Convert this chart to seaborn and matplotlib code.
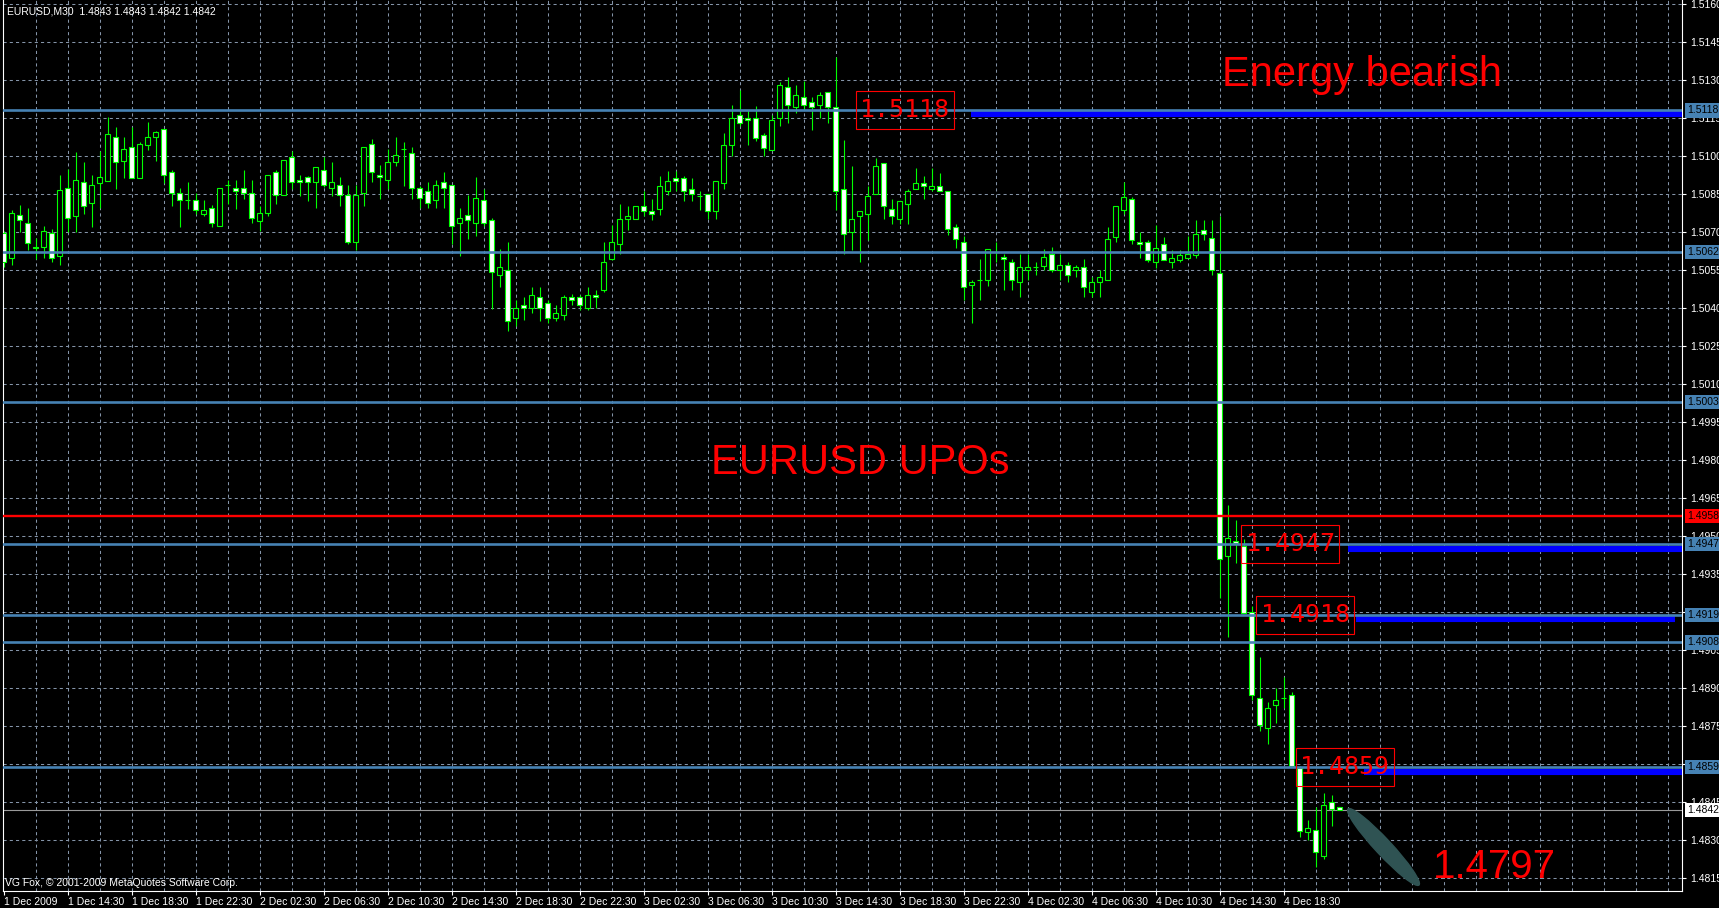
import matplotlib
matplotlib.use("Agg")
import matplotlib.pyplot as plt
import numpy as np
import seaborn as sns
from matplotlib.patches import Ellipse, Rectangle
from matplotlib.transforms import IdentityTransform, blended_transform_factory

# EURUSD M30, 1 Dec 2009 10:30 -> 4 Dec 2009 22:00 (one entry per candle)
opens = [
    1.50696, 1.50596, 1.50767, 1.50734, 1.50643, 1.50643, 1.50695, 1.50604, 1.50872, 1.50764,
    1.50896, 1.50813, 1.50895, 1.50903, 1.51074, 1.50982, 1.51034, 1.50914, 1.51045, 1.51074,
    1.51105, 1.50936, 1.50853, 1.50825, 1.50825, 1.50772, 1.50793, 1.50722, 1.50884, 1.50872,
    1.50872, 1.50853, 1.50745, 1.50774, 1.50936, 1.50845, 1.50995, 1.50904, 1.50916, 1.50896,
    1.50943, 1.50872, 1.50884, 1.50845, 1.50662, 1.50853, 1.51046, 1.50924, 1.50904, 1.50975,
    1.51026, 1.51014, 1.50872, 1.50864, 1.50825, 1.50896, 1.50884, 1.50734, 1.50766, 1.50734,
    1.50825, 1.50746, 1.50529, 1.50549, 1.50360, 1.50412, 1.50400, 1.50443, 1.50420, 1.50360,
    1.50371, 1.50443, 1.50443, 1.50400, 1.50451, 1.50470, 1.50593, 1.50653, 1.50751, 1.50751,
    1.50801, 1.50782, 1.50791, 1.50861, 1.50913, 1.50913, 1.50870, 1.50842, 1.50850, 1.50782,
    1.50893, 1.51042, 1.51162, 1.51150, 1.51150, 1.51083, 1.51022, 1.51149, 1.51272, 1.51192,
    1.51233, 1.51212, 1.51200, 1.51253, 1.51192, 1.50870, 1.50700, 1.50762, 1.50770, 1.50849,
    1.50972, 1.50791, 1.50750, 1.50809, 1.50870, 1.50893, 1.50870, 1.50883, 1.50862, 1.50720,
    1.50661, 1.50491, 1.50511, 1.50509, 1.50620, 1.50601, 1.50582, 1.50503, 1.50550, 1.50562,
    1.50568, 1.50613, 1.50550, 1.50570, 1.50550, 1.50562, 1.50462, 1.50501, 1.50509, 1.50679,
    1.50789, 1.50829, 1.50660, 1.50660, 1.50580, 1.50651, 1.50580, 1.50591, 1.50599, 1.50610,
    1.50710, 1.50678, 1.50540, 1.49422, 1.49481, 1.49462, 1.49201, 1.48862, 1.48743, 1.48833,
    1.48862, 1.48873, 1.48584, 1.48331, 1.48339, 1.48236, 1.48449, 1.48430,
]
highs = [
    1.50705, 1.50787, 1.50807, 1.50793, 1.50675, 1.50724, 1.50714, 1.50924, 1.50949, 1.51016,
    1.50976, 1.50924, 1.51018, 1.51153, 1.51114, 1.51074, 1.51114, 1.51055, 1.51134, 1.51100,
    1.51108, 1.50945, 1.50874, 1.50897, 1.50853, 1.50826, 1.50805, 1.50872, 1.50905, 1.50905,
    1.50945, 1.50905, 1.50804, 1.50924, 1.50945, 1.50983, 1.51018, 1.50924, 1.50922, 1.50955,
    1.50996, 1.50976, 1.50916, 1.50884, 1.50884, 1.51034, 1.51066, 1.50963, 1.51028, 1.51074,
    1.51055, 1.51034, 1.50883, 1.50896, 1.50904, 1.50936, 1.50884, 1.50793, 1.50845, 1.50916,
    1.50870, 1.50754, 1.50633, 1.50662, 1.50433, 1.50443, 1.50484, 1.50484, 1.50433, 1.50413,
    1.50451, 1.50454, 1.50451, 1.50484, 1.50471, 1.50662, 1.50729, 1.50812, 1.50804, 1.50804,
    1.50861, 1.50830, 1.50922, 1.50941, 1.50942, 1.50921, 1.50913, 1.50863, 1.50850, 1.50901,
    1.51092, 1.51201, 1.51262, 1.51180, 1.51196, 1.51092, 1.51162, 1.51293, 1.51312, 1.51282,
    1.51296, 1.51233, 1.51253, 1.51253, 1.51392, 1.51064, 1.50961, 1.50782, 1.50883, 1.50993,
    1.50972, 1.50830, 1.50822, 1.50870, 1.50954, 1.50921, 1.50953, 1.50933, 1.50862, 1.50733,
    1.50683, 1.50512, 1.50593, 1.50633, 1.50661, 1.50613, 1.50593, 1.50613, 1.50613, 1.50583,
    1.50633, 1.50642, 1.50613, 1.50583, 1.50570, 1.50593, 1.50521, 1.50550, 1.50720, 1.50804,
    1.50897, 1.50840, 1.50699, 1.50670, 1.50729, 1.50680, 1.50628, 1.50631, 1.50684, 1.50749,
    1.50749, 1.50749, 1.50763, 1.49624, 1.49565, 1.49489, 1.49224, 1.49023, 1.48846, 1.48902,
    1.48942, 1.48883, 1.48592, 1.48379, 1.48431, 1.48484, 1.48478, 1.48430,
]
lows = [
    1.50564, 1.50571, 1.50701, 1.50630, 1.50593, 1.50596, 1.50583, 1.50571, 1.50701, 1.50701,
    1.50771, 1.50721, 1.50796, 1.50903, 1.50871, 1.50913, 1.50914, 1.50914, 1.51025, 1.50982,
    1.50892, 1.50804, 1.50721, 1.50792, 1.50771, 1.50763, 1.50721, 1.50722, 1.50811, 1.50792,
    1.50830, 1.50734, 1.50705, 1.50764, 1.50811, 1.50845, 1.50870, 1.50843, 1.50824, 1.50793,
    1.50876, 1.50843, 1.50804, 1.50653, 1.50630, 1.50804, 1.50896, 1.50832, 1.50870, 1.50962,
    1.50883, 1.50832, 1.50796, 1.50793, 1.50793, 1.50793, 1.50654, 1.50604, 1.50674, 1.50683,
    1.50725, 1.50396, 1.50482, 1.50310, 1.50330, 1.50354, 1.50380, 1.50350, 1.50340, 1.50350,
    1.50354, 1.50412, 1.50391, 1.50391, 1.50400, 1.50462, 1.50590, 1.50612, 1.50709, 1.50751,
    1.50762, 1.50749, 1.50768, 1.50847, 1.50861, 1.50821, 1.50821, 1.50789, 1.50751, 1.50751,
    1.50870, 1.51000, 1.51120, 1.51042, 1.51061, 1.51000, 1.51022, 1.51120, 1.51129, 1.51170,
    1.51180, 1.51101, 1.51150, 1.51129, 1.50788, 1.50612, 1.50630, 1.50580, 1.50670, 1.50849,
    1.50751, 1.50730, 1.50730, 1.50730, 1.50870, 1.50830, 1.50861, 1.50861, 1.50689, 1.50638,
    1.50430, 1.50341, 1.50430, 1.50489, 1.50580, 1.50470, 1.50470, 1.50442, 1.50509, 1.50529,
    1.50550, 1.50541, 1.50509, 1.50501, 1.50521, 1.50442, 1.50442, 1.50442, 1.50509, 1.50659,
    1.50770, 1.50651, 1.50599, 1.50580, 1.50560, 1.50591, 1.50560, 1.50580, 1.50599, 1.50599,
    1.50670, 1.50532, 1.49256, 1.49103, 1.49393, 1.49195, 1.48854, 1.48730, 1.48680, 1.48762,
    1.48822, 1.48592, 1.48312, 1.48299, 1.48195, 1.48226, 1.48355, 1.48420,
]
closes = [
    1.50583, 1.50774, 1.50746, 1.50655, 1.50636, 1.50703, 1.50596, 1.50866, 1.50754, 1.50904,
    1.50804, 1.50884, 1.50916, 1.51086, 1.50975, 1.51026, 1.50914, 1.51046, 1.51074, 1.51093,
    1.50924, 1.50853, 1.50825, 1.50825, 1.50786, 1.50786, 1.50734, 1.50872, 1.50884, 1.50864,
    1.50853, 1.50754, 1.50774, 1.50924, 1.50845, 1.50983, 1.50896, 1.50896, 1.50896, 1.50955,
    1.50884, 1.50896, 1.50845, 1.50662, 1.50845, 1.51034, 1.50936, 1.50916, 1.50975, 1.51003,
    1.51026, 1.50872, 1.50833, 1.50813, 1.50884, 1.50872, 1.50722, 1.50754, 1.50746, 1.50833,
    1.50734, 1.50543, 1.50562, 1.50350, 1.50400, 1.50400, 1.50451, 1.50400, 1.50360, 1.50380,
    1.50443, 1.50430, 1.50411, 1.50451, 1.50443, 1.50582, 1.50662, 1.50751, 1.50763, 1.50804,
    1.50783, 1.50771, 1.50883, 1.50901, 1.50901, 1.50861, 1.50850, 1.50842, 1.50782, 1.50901,
    1.51043, 1.51150, 1.51130, 1.51141, 1.51070, 1.51032, 1.51142, 1.51282, 1.51200, 1.51242,
    1.51200, 1.51192, 1.51242, 1.51192, 1.50861, 1.50691, 1.50751, 1.50782, 1.50842, 1.50961,
    1.50801, 1.50762, 1.50822, 1.50862, 1.50893, 1.50880, 1.50883, 1.50861, 1.50712, 1.50672,
    1.50483, 1.50503, 1.50511, 1.50633, 1.50620, 1.50593, 1.50509, 1.50562, 1.50562, 1.50562,
    1.50601, 1.50550, 1.50570, 1.50529, 1.50562, 1.50483, 1.50503, 1.50522, 1.50672, 1.50804,
    1.50840, 1.50670, 1.50651, 1.50591, 1.50639, 1.50591, 1.50599, 1.50610, 1.50615, 1.50691,
    1.50691, 1.50551, 1.49409, 1.49492, 1.49473, 1.49195, 1.48873, 1.48753, 1.48822, 1.48854,
    1.48862, 1.48592, 1.48337, 1.48349, 1.48252, 1.48440, 1.48421, 1.48420,
]

# x axis labels (every 8th candle)
time_idx = [0, 8, 16, 24, 32, 40, 48, 56, 64, 72, 80, 88, 96, 104, 112, 120, 128, 136, 144, 152, 160]
time_labels = ["1 Dec 2009", "1 Dec 14:30", "1 Dec 18:30", "1 Dec 22:30", "2 Dec 02:30",
               "2 Dec 06:30", "2 Dec 10:30", "2 Dec 14:30", "2 Dec 18:30", "2 Dec 22:30",
               "3 Dec 02:30", "3 Dec 06:30", "3 Dec 10:30", "3 Dec 14:30", "3 Dec 18:30",
               "3 Dec 22:30", "4 Dec 02:30", "4 Dec 06:30", "4 Dec 10:30", "4 Dec 14:30",
               "4 Dec 18:30"]
price_ticks = [1.5160, 1.5145, 1.5130, 1.5115, 1.5100, 1.5085, 1.5070, 1.5055, 1.5040,
               1.5025, 1.5010, 1.4995, 1.4980, 1.4965, 1.4950, 1.4935, 1.4920, 1.4905,
               1.4890, 1.4875, 1.4860, 1.4845, 1.4830, 1.4815]

# UPO levels
levels = [1.5118, 1.5062, 1.5003, 1.4947, 1.4919, 1.4908, 1.4859]
red_level = 1.4958
last_price = 1.4842

# thick blue "energy" segments: price, start candle, end candle
seg_price = [1.51165, 1.49450, 1.49172, 1.48568]
seg_start = [120.9, 168.0, 169.0, 170.0]
seg_end = [209.8, 209.8, 208.9, 209.8]

# boxed price labels: text, level, left candle
box_labels = ["1.5118", "1.4947", "1.4918", "1.4859"]
box_price = [1.5118, 1.4947, 1.4919, 1.4859]
box_left = [106.5, 154.7, 156.6, 161.5]

sns.set_theme(style="dark", rc={"axes.facecolor": "black", "figure.facecolor": "black"})
plt.rcParams["font.family"] = ["Liberation Sans", "DejaVu Sans"]

W, H = 1719, 908
fig = plt.figure(figsize=(W / 100, H / 100), dpi=100)
ax = fig.add_axes([3 / W, 17 / H, 1679 / W, 891 / H])
ax.set_facecolor("black")

grid_col = "#8494a8"
for p in price_ticks:
    ax.axhline(p, color=grid_col, lw=0.75, ls=(0, (3, 3)), zorder=0.5)
for gx in range(4, 210, 4):
    ax.axvline(gx, color=grid_col, lw=0.75, ls=(0, (3, 3)), zorder=0.5)

# candles
x = np.arange(len(opens))
o = np.array(opens)
c = np.array(closes)
ax.vlines(x, lows, highs, color="#00ff00", lw=0.8, zorder=2)
fills = np.where(c < o, "white", "black")
ax.bar(x, np.abs(c - o), bottom=np.minimum(o, c), width=0.6, color=fills,
       edgecolor="#00ff00", linewidth=0.8, zorder=3)

# levels
ax.axhline(last_price, color="#9a9a9a", lw=0.8, zorder=1)
ax.hlines(seg_price, seg_start, seg_end, color="#0000ff", lw=4.4, zorder=3.5)
for lv in levels:
    ax.axhline(lv, color="#4682b4", lw=1.9, zorder=4)
ax.axhline(red_level, color="#ff0000", lw=1.7, zorder=4)

# boxed labels
for txt, p, x0 in zip(box_labels, box_price, box_left):
    ax.add_patch(Rectangle((x0, p - 0.00075), 12.25, 0.0015, fill=False,
                           ec="#ff0000", lw=0.8, zorder=6))
    ax.text(x0 + 0.55, p, txt, color="#ff0000", fontsize=18, family="DejaVu Sans Mono",
            ha="left", va="center", zorder=6)

ax.text(152.3, 1.51276, "Energy bearish", color="#ff0000", fontsize=30, va="baseline", zorder=6)
ax.text(88.4, 1.49745, "EURUSD UPOs", color="#ff0000", fontsize=30, va="baseline", zorder=6)
ax.text(178.6, 1.48150, "1.4797", color="#ff0000", fontsize=29, va="baseline", zorder=6)

ax.set_xlim(-0.075, 209.8)
ax.set_ylim(1.48099, 1.51616)

# projection ellipse (pixel space)
cx, cy = 1383.5, H - 847
ax.add_patch(Ellipse((cx, cy), 104, 16, angle=-47, transform=IdentityTransform(),
                     color="#2f5353", zorder=5))

# axes styling
for side in ["left", "bottom", "right"]:
    ax.spines[side].set_visible(True)
    ax.spines[side].set_color("white")
    ax.spines[side].set_linewidth(0.8)
ax.spines["top"].set_visible(False)
ax.grid(False)

ax.yaxis.tick_right()
ax.set_yticks(price_ticks)
ax.set_yticklabels([f"{p:.4f}" for p in price_ticks])
ax.tick_params(axis="y", colors="white", labelsize=7.5, length=3, width=0.8,
               direction="out", pad=3, right=True, left=False)
ax.set_xticks(time_idx)
ax.set_xticklabels(time_labels)
for lab in ax.get_xticklabels():
    lab.set_horizontalalignment("left")
ax.tick_params(axis="x", colors="white", labelsize=7.5, length=3, width=0.8,
               direction="out", pad=1, bottom=True)

# level tags on the price scale
tag = blended_transform_factory(ax.transAxes, ax.transData)
tag_x = 1 + 5 / 1679
for lv in levels:
    ax.text(tag_x, lv, f"{lv:.4f}", transform=tag, fontsize=7.5, color="black",
            ha="left", va="center", clip_on=False, zorder=10,
            bbox=dict(boxstyle="square,pad=0.2", fc="#4682b4", ec="none"))
ax.text(tag_x, red_level, f"{red_level:.4f}", transform=tag, fontsize=7.5, color="black",
        ha="left", va="center", clip_on=False, zorder=10,
        bbox=dict(boxstyle="square,pad=0.2", fc="#ff0000", ec="none"))
ax.text(tag_x, last_price, f"{last_price:.4f}", transform=tag, fontsize=7.5, color="black",
        ha="left", va="center", clip_on=False, zorder=10,
        bbox=dict(boxstyle="square,pad=0.2", fc="white", ec="none"))

fig.text(7 / W, 1 - 6 / H, "EURUSD,M30  1.4843 1.4843 1.4842 1.4842", color="white",
         fontsize=7.5, ha="left", va="top")
fig.text(5 / W, (H - 888) / H, "VG Fox, © 2001-2009 MetaQuotes Software Corp.",
         color="white", fontsize=7.5, ha="left", va="bottom")

fig.savefig("out.png", dpi=100, facecolor="black")
